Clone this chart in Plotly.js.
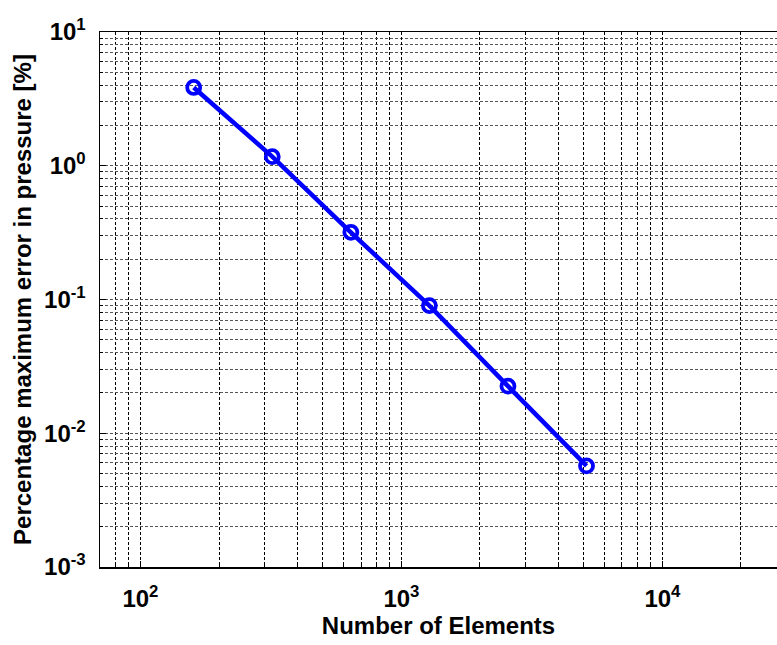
<!DOCTYPE html>
<html>
<head>
<meta charset="utf-8">
<script src="https://cdn.plot.ly/plotly-3.0.1.min.js"></script>
<style>html,body{margin:0;padding:0;background:#fff;}#chart{width:777px;height:645px;}</style>
</head>
<body>
<div id="chart"></div>
<script>
// Data
var elements = [160, 320, 640, 1280, 2560, 5120];
var maxErrorPct = [3.85, 1.17, 0.318, 0.090, 0.0225, 0.0057];

// Tick labels
var xTickVals = [100, 1000, 10000];
var xTickText = ['10<sup>2</sup>', '10<sup>3</sup>', '10<sup>4</sup>'];
var yTickVals = [0.001, 0.01, 0.1, 1, 10];
var yTickText = ['10<sup>-3</sup>', '10<sup>-2</sup>', '10<sup>-1</sup>', '10<sup>0</sup>', '10<sup>1</sup>'];

var FONT = '"Liberation Sans", Arial, Helvetica, sans-serif';

var trace = {
  x: elements,
  y: maxErrorPct,
  type: 'scatter',
  mode: 'lines+markers',
  line: {color: '#0000FF', width: 4.5},
  marker: {symbol: 'circle-open', size: 13, color: '#0000FF', line: {color: '#0000FF', width: 3.8}},
  hoverinfo: 'x+y'
};

var gridDash = '3px,2px';

var layout = {
  width: 777,
  height: 645,
  margin: {l: 100, r: 0, t: 32, b: 78, pad: 0},
  paper_bgcolor: '#ffffff',
  plot_bgcolor: '#ffffff',
  showlegend: false,
  font: {family: FONT, size: 24, color: '#000'},
  xaxis: {
    type: 'log',
    range: [Math.log10(70), Math.log10(27480)],
    tickvals: xTickVals,
    ticktext: xTickText,
    tickfont: {family: FONT, size: 24, weight: 'bold', color: '#000'},
    ticks: 'inside',
    ticklen: 6,
    tickcolor: '#000',
    showline: true,
    linecolor: '#000',
    linewidth: 1.5,
    mirror: true,
    showgrid: true,
    gridcolor: '#000',
    gridwidth: 1,
    griddash: gridDash,
    minor: {dtick: 'D1', showgrid: true, gridcolor: '#000', gridwidth: 1, griddash: gridDash, ticks: 'inside', ticklen: 3, tickcolor: '#000'},
    zeroline: false,
    ticklabelstandoff: 10,
    title: {text: 'Number of Elements', font: {family: FONT, size: 24, weight: 'bold', color: '#000'}, standoff: 5}
  },
  yaxis: {
    type: 'log',
    range: [-3, 1],
    tickvals: yTickVals,
    ticktext: yTickText,
    tickfont: {family: FONT, size: 24, weight: 'bold', color: '#000'},
    ticks: 'inside',
    ticklen: 6,
    tickcolor: '#000',
    showline: true,
    linecolor: '#000',
    linewidth: 1.5,
    mirror: false,
    showgrid: true,
    gridcolor: '#555',
    gridwidth: 1,
    griddash: gridDash,
    minor: {dtick: 'D1', showgrid: true, gridcolor: '#555', gridwidth: 1, griddash: gridDash, ticks: 'inside', ticklen: 3, tickcolor: '#000'},
    zeroline: false,
    ticklabelstandoff: 8,
    title: {text: 'Percentage maximum error in pressure [%]', font: {family: FONT, size: 24, weight: 'bold', color: '#000'}, standoff: 5}
  }
};

Plotly.newPlot('chart', [trace], layout, {displayModeBar: false, staticPlot: true});
</script>
</body>
</html>
